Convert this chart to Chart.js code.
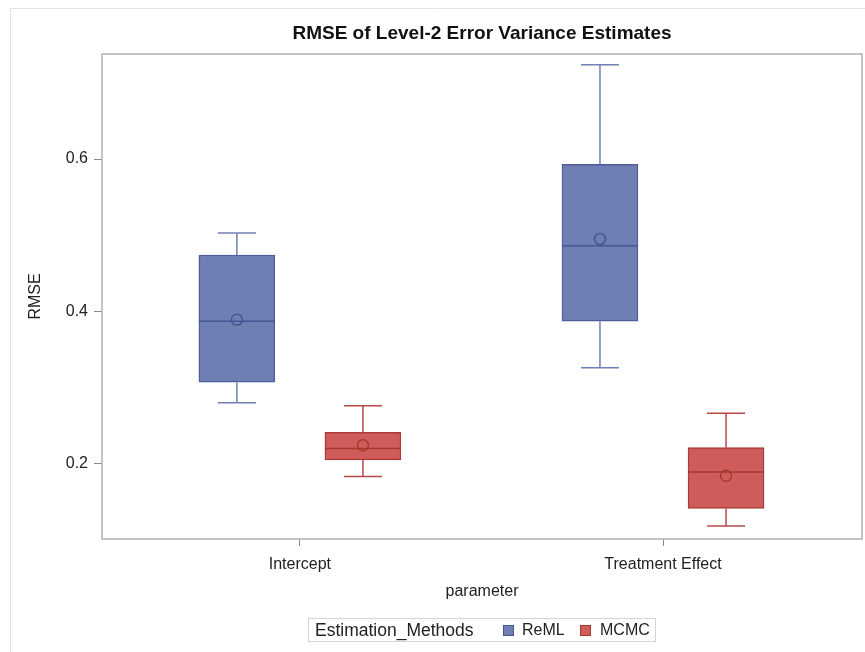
<!DOCTYPE html>
<html>
<head>
<meta charset="utf-8">
<script src="https://cdn.jsdelivr.net/npm/chart.js@4.4.1/dist/chart.umd.min.js"></script>
<style>
  body { margin: 0; background: #fff; }
  #wrap { position: relative; width: 865px; height: 652px; }
  #legend {
    position: absolute; left: 308px; top: 618px; width: 348px; height: 24px;
    border: 1px solid #d4d4d4; font-family: "Liberation Sans", Arial, sans-serif;
    font-size: 16px; color: #222; box-sizing: border-box;
  }
  #legend span { position: absolute; top: 2px; white-space: nowrap; }
  #legend i { position: absolute; top: 6px; width: 11px; height: 11px; box-sizing: border-box; }
</style>
</head>
<body>
<div id="wrap">
  <canvas id="boxChart" width="865" height="652"></canvas>
  <div id="legend">
    <span style="left:6px;font-size:17.5px;top:1px">Estimation_Methods</span>
    <i style="left:194px;background:#6f7eb3;border:1px solid #445694"></i>
    <span style="left:213px">ReML</span>
    <i style="left:271px;background:#d05b5b;border:1px solid #a23a2e"></i>
    <span style="left:291px">MCMC</span>
  </div>
</div>
<script>
// values
const categories = ['Intercept', 'Treatment Effect'];
const methods = ['ReML', 'MCMC'];

const remlMin    = [0.280, 0.326];
const remlQ1     = [0.307, 0.387];
const remlMedian = [0.387, 0.486];
const remlQ3     = [0.474, 0.593];
const remlMax    = [0.503, 0.724];
const remlMean   = [0.389, 0.495];

const mcmcMin    = [0.183, 0.118];
const mcmcQ1     = [0.205, 0.141];
const mcmcMedian = [0.220, 0.189];
const mcmcQ3     = [0.241, 0.221];
const mcmcMax    = [0.276, 0.266];
const mcmcMean   = [0.224, 0.184];

const yTicks = [0.2, 0.4, 0.6];

const FONT = '"Liberation Sans", Arial, sans-serif';
const groupOffset = 0.1736;

function boxData(q1, q3, offset) {
    return categories.map((c, i) => ({ x: i + offset, y: [q1[i], q3[i]] }));
}

let stats = [
    { min: remlMin, med: remlMedian, max: remlMax, mean: remlMean, whisker: '#7080b4', dark: '#445694' },
    { min: mcmcMin, med: mcmcMedian, max: mcmcMax, mean: mcmcMean, whisker: '#b84848', dark: '#a23a2e' }
];

const boxExtras = {
    id: 'boxExtras',
    beforeDraw(chart) {
        let ctx = chart.ctx;
        ctx.save();
        ctx.strokeStyle = '#e2e2e2';
        ctx.lineWidth = 1;
        ctx.beginPath();
        ctx.moveTo(10.5, 652);
        ctx.lineTo(10.5, 8.5);
        ctx.lineTo(865, 8.5);
        ctx.stroke();
        ctx.restore();
    },
    afterDatasetsDraw(chart) {
        let ctx = chart.ctx;
        let y = chart.scales.y;
        ctx.save();
        chart.data.datasets.forEach((ds, d) => {
            let s = stats[d];
            chart.getDatasetMeta(d).data.forEach((bar, i) => {
                let x = bar.x, w = bar.width;
                let pMin = y.getPixelForValue(s.min[i]);
                let pMax = y.getPixelForValue(s.max[i]);
                let pQ1 = y.getPixelForValue(ds.data[i].y[0]);
                let pQ3 = y.getPixelForValue(ds.data[i].y[1]);
                let pMed = y.getPixelForValue(s.med[i]);
                let pMean = y.getPixelForValue(s.mean[i]);
                ctx.strokeStyle = s.whisker;
                ctx.lineWidth = 1.5;
                ctx.beginPath();
                ctx.moveTo(x, pQ3); ctx.lineTo(x, pMax);
                ctx.moveTo(x - w / 4, pMax); ctx.lineTo(x + w / 4, pMax);
                ctx.moveTo(x, pQ1); ctx.lineTo(x, pMin);
                ctx.moveTo(x - w / 4, pMin); ctx.lineTo(x + w / 4, pMin);
                ctx.stroke();
                ctx.strokeStyle = s.dark;
                ctx.beginPath();
                ctx.moveTo(x - w / 2, pMed); ctx.lineTo(x + w / 2, pMed);
                ctx.stroke();
                ctx.beginPath();
                ctx.arc(x, pMean, 5.5, 0, Math.PI * 2);
                ctx.stroke();
            });
        });
        let a = chart.chartArea;
        ctx.strokeStyle = '#aeb2b6';
        ctx.lineWidth = 1.5;
        ctx.strokeRect(a.left, a.top, a.right - a.left, a.bottom - a.top);
        ctx.restore();
    }
};

let ctx = document.getElementById('boxChart').getContext('2d');
new Chart(ctx, {
    type: 'bar',
    data: {
        datasets: [{
            label: methods[0],
            data: boxData(remlQ1, remlQ3, -groupOffset),
            backgroundColor: '#6f7eb3',
            borderColor: '#4d5e9b',
            borderWidth: 1.5,
            borderSkipped: false,
            grouped: false,
            barThickness: 76
        }, {
            label: methods[1],
            data: boxData(mcmcQ1, mcmcQ3, groupOffset),
            backgroundColor: '#d05b5b',
            borderColor: '#a83c36',
            borderWidth: 1.5,
            borderSkipped: false,
            grouped: false,
            barThickness: 76
        }]
    },
    options: {
        responsive: false,
        animation: false,
        layout: { padding: { left: 0, right: 3, top: 0, bottom: 43 } },
        plugins: {
            legend: { display: false },
            tooltip: { enabled: false },
            title: {
                display: true,
                text: 'RMSE of Level-2 Error Variance Estimates',
                fullSize: false,
                color: '#111',
                font: { family: FONT, size: 19, weight: 'bold', lineHeight: 1.2 },
                padding: { top: 22, bottom: 9.2 }
            }
        },
        scales: {
            x: {
                type: 'linear',
                offset: false,
                min: -0.545,
                max: 1.548,
                afterBuildTicks: axis => { axis.ticks = categories.map((c, i) => ({ value: i })); },
                afterFit: axis => { axis.height = 70; },
                ticks: {
                    callback: v => categories[v],
                    color: '#222',
                    padding: 9,
                    font: { family: FONT, size: 16 }
                },
                grid: { offset: false, drawOnChartArea: false, tickLength: 7, color: '#888' },
                border: { display: false },
                title: {
                    display: true,
                    text: 'parameter',
                    color: '#222',
                    font: { family: FONT, size: 16, lineHeight: 1.2 },
                    padding: { top: 0, bottom: 8 }
                }
            },
            y: {
                min: 0.101,
                max: 0.738,
                afterBuildTicks: axis => { axis.ticks = yTicks.map(v => ({ value: v })); },
                afterFit: axis => { axis.width = 102; },
                ticks: {
                    callback: v => v.toFixed(1),
                    color: '#222',
                    padding: 6,
                    font: { family: FONT, size: 16 }
                },
                grid: { drawOnChartArea: false, tickLength: 8, color: '#888' },
                border: { display: false },
                title: {
                    display: true,
                    text: 'RMSE',
                    color: '#222',
                    font: { family: FONT, size: 16, lineHeight: 1.2 },
                    padding: { top: 26, bottom: 0 }
                }
            }
        }
    },
    plugins: [boxExtras]
});
</script>
</body>
</html>
